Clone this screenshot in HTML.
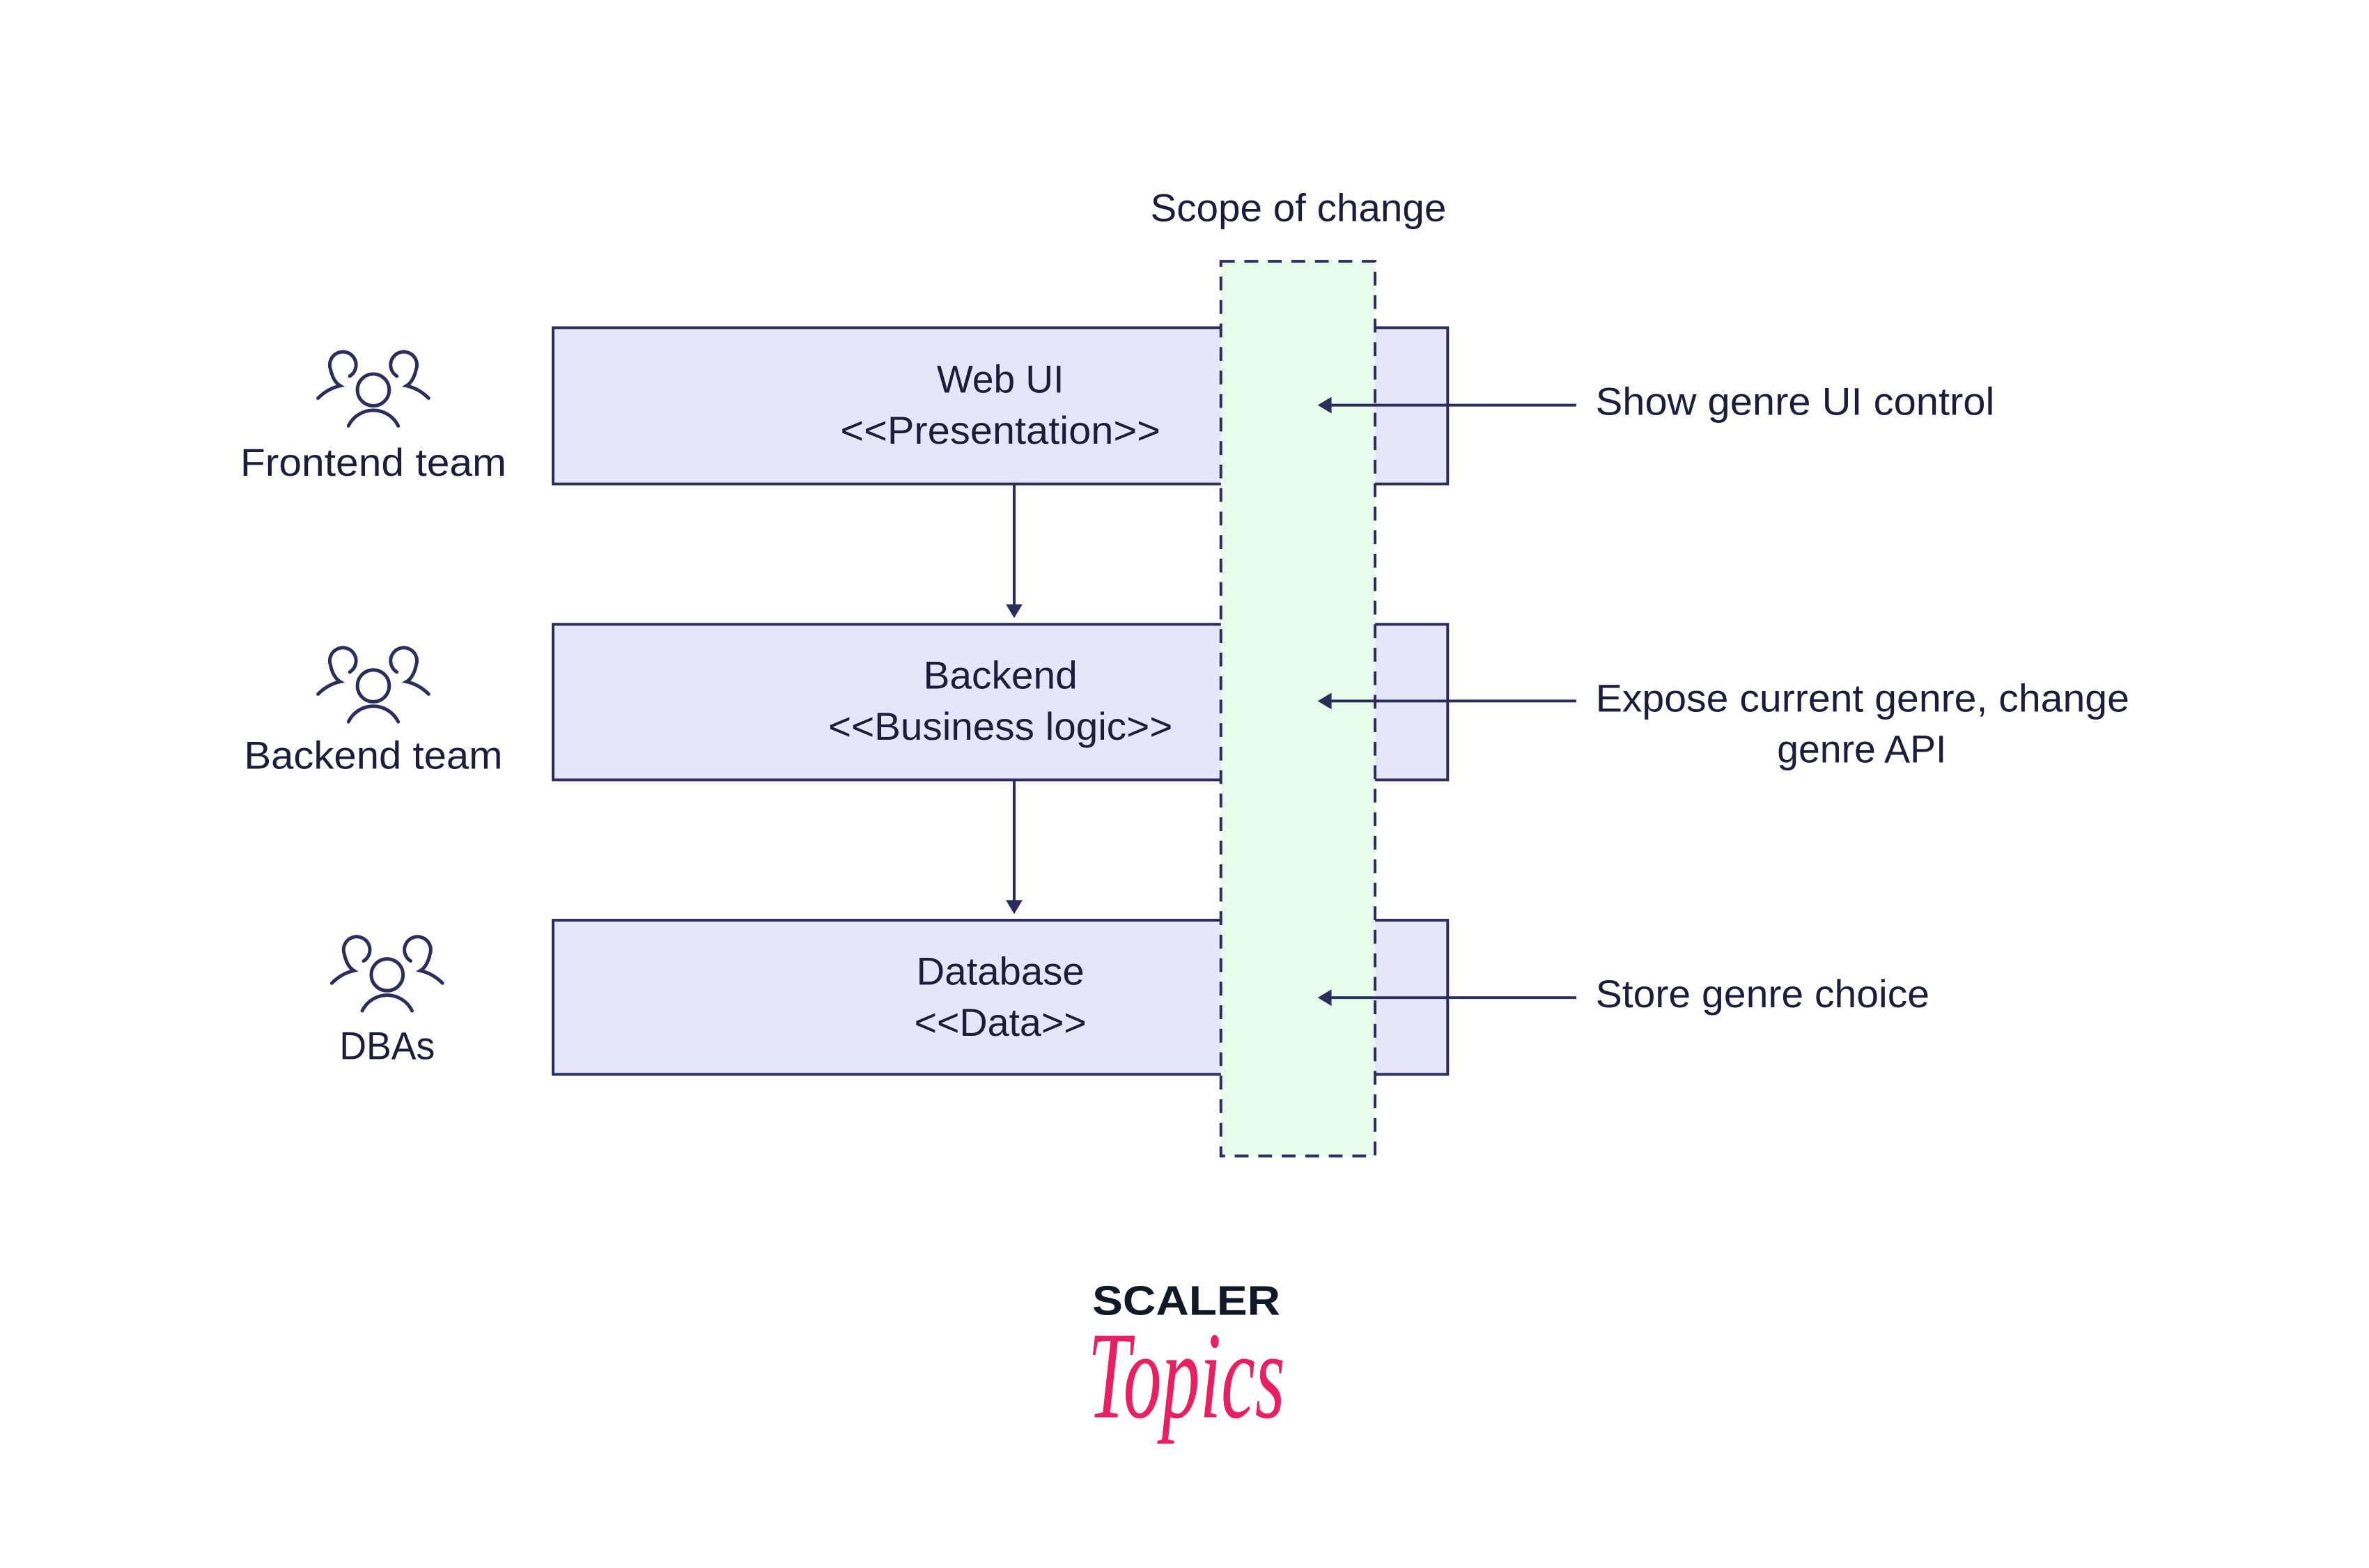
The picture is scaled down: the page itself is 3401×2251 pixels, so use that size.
<!DOCTYPE html>
<html><head><meta charset="utf-8"><style>html,body{margin:0;padding:0;background:#fff}svg{display:block}</style></head>
<body>
<svg width="3401" height="2251" viewBox="0 0 3401 2251" xmlns="http://www.w3.org/2000/svg" font-family="Liberation Sans, sans-serif" fill="#1c1d3a">
<defs>
<g id="ppl" fill="none" stroke="#2b2d5a" stroke-width="5" stroke-linecap="round">
  <circle cx="0" cy="10" r="23"/>
  <path d="M-36 62 A40 40 0 0 1 36 62"/>
  <path d="M-34 -10 A19 19 0 1 0 -62 -20 Q-58 -2 -48 4 Q-66 8 -80 22"/>
  <path d="M34 -10 A19 19 0 1 1 62 -20 Q58 -2 48 4 Q66 8 80 22"/>
</g>
</defs>
<g transform="scale(0.9925)">
<g fill="#e6e6fb" stroke="#2b2d5a" stroke-width="4">
<rect x="800" y="474" width="1294" height="226"/>
<rect x="800" y="903" width="1294" height="225"/>
<rect x="800" y="1331" width="1294" height="223"/>
</g>
<rect x="1766" y="378" width="223" height="1294" fill="#e6fdec" stroke="#2b2d5a" stroke-width="4" stroke-dasharray="20 14"/>
<text x="1878" y="320" font-size="56" text-anchor="middle" textLength="428" lengthAdjust="spacingAndGlyphs">Scope of change</text>
<g font-size="56" text-anchor="middle">
<text x="1447" y="568" textLength="184" lengthAdjust="spacingAndGlyphs">Web UI</text>
<text x="1447" y="642" textLength="463" lengthAdjust="spacingAndGlyphs">&lt;&lt;Presentation&gt;&gt;</text>
<text x="1447" y="996" textLength="223" lengthAdjust="spacingAndGlyphs">Backend</text>
<text x="1447" y="1070" textLength="498" lengthAdjust="spacingAndGlyphs">&lt;&lt;Business logic&gt;&gt;</text>
<text x="1447" y="1424" textLength="243" lengthAdjust="spacingAndGlyphs">Database</text>
<text x="1447" y="1498" textLength="249" lengthAdjust="spacingAndGlyphs">&lt;&lt;Data&gt;&gt;</text>
<text x="540" y="688" textLength="385" lengthAdjust="spacingAndGlyphs">Frontend team</text>
<text x="540" y="1112" textLength="374" lengthAdjust="spacingAndGlyphs">Backend team</text>
<text x="560" y="1532" textLength="138" lengthAdjust="spacingAndGlyphs">DBAs</text>
<text x="2693" y="1103" textLength="245" lengthAdjust="spacingAndGlyphs">genre API</text>
</g>
<g font-size="56">
<text x="2308" y="600" textLength="577" lengthAdjust="spacingAndGlyphs">Show genre UI control</text>
<text x="2308" y="1029" textLength="772" lengthAdjust="spacingAndGlyphs">Expose current genre, change</text>
<text x="2308" y="1457" textLength="483" lengthAdjust="spacingAndGlyphs">Store genre choice</text>
</g>
<g stroke="#2b2d5a" stroke-width="4" fill="none">
<line x1="1467" y1="700" x2="1467" y2="880"/>
<line x1="1467" y1="1128" x2="1467" y2="1308"/>
<line x1="2280" y1="586" x2="1920" y2="586"/>
<line x1="2280" y1="1014" x2="1920" y2="1014"/>
<line x1="2280" y1="1443" x2="1920" y2="1443"/>
</g>
<g fill="#2b2d5a">
<path d="M1455 874 L1479 874 L1467 894 Z"/>
<path d="M1455 1302 L1479 1302 L1467 1322 Z"/>
<path d="M1906 586 L1926 574 L1926 598 Z"/>
<path d="M1906 1014 L1926 1002 L1926 1026 Z"/>
<path d="M1906 1443 L1926 1431 L1926 1455 Z"/>
</g>
<use href="#ppl" x="540" y="554"/>
<use href="#ppl" x="540" y="982"/>
<use href="#ppl" x="560" y="1400"/>
<text x="1716" y="1902" font-size="60" font-weight="bold" text-anchor="middle" fill="#111827" textLength="272" lengthAdjust="spacingAndGlyphs">SCALER</text>
<text x="1716" y="2050" font-size="180" font-style="italic" font-family="Liberation Serif, serif" text-anchor="middle" fill="#e91e63" textLength="285" lengthAdjust="spacingAndGlyphs">Topics</text>
</g>
</svg>
</body></html>
